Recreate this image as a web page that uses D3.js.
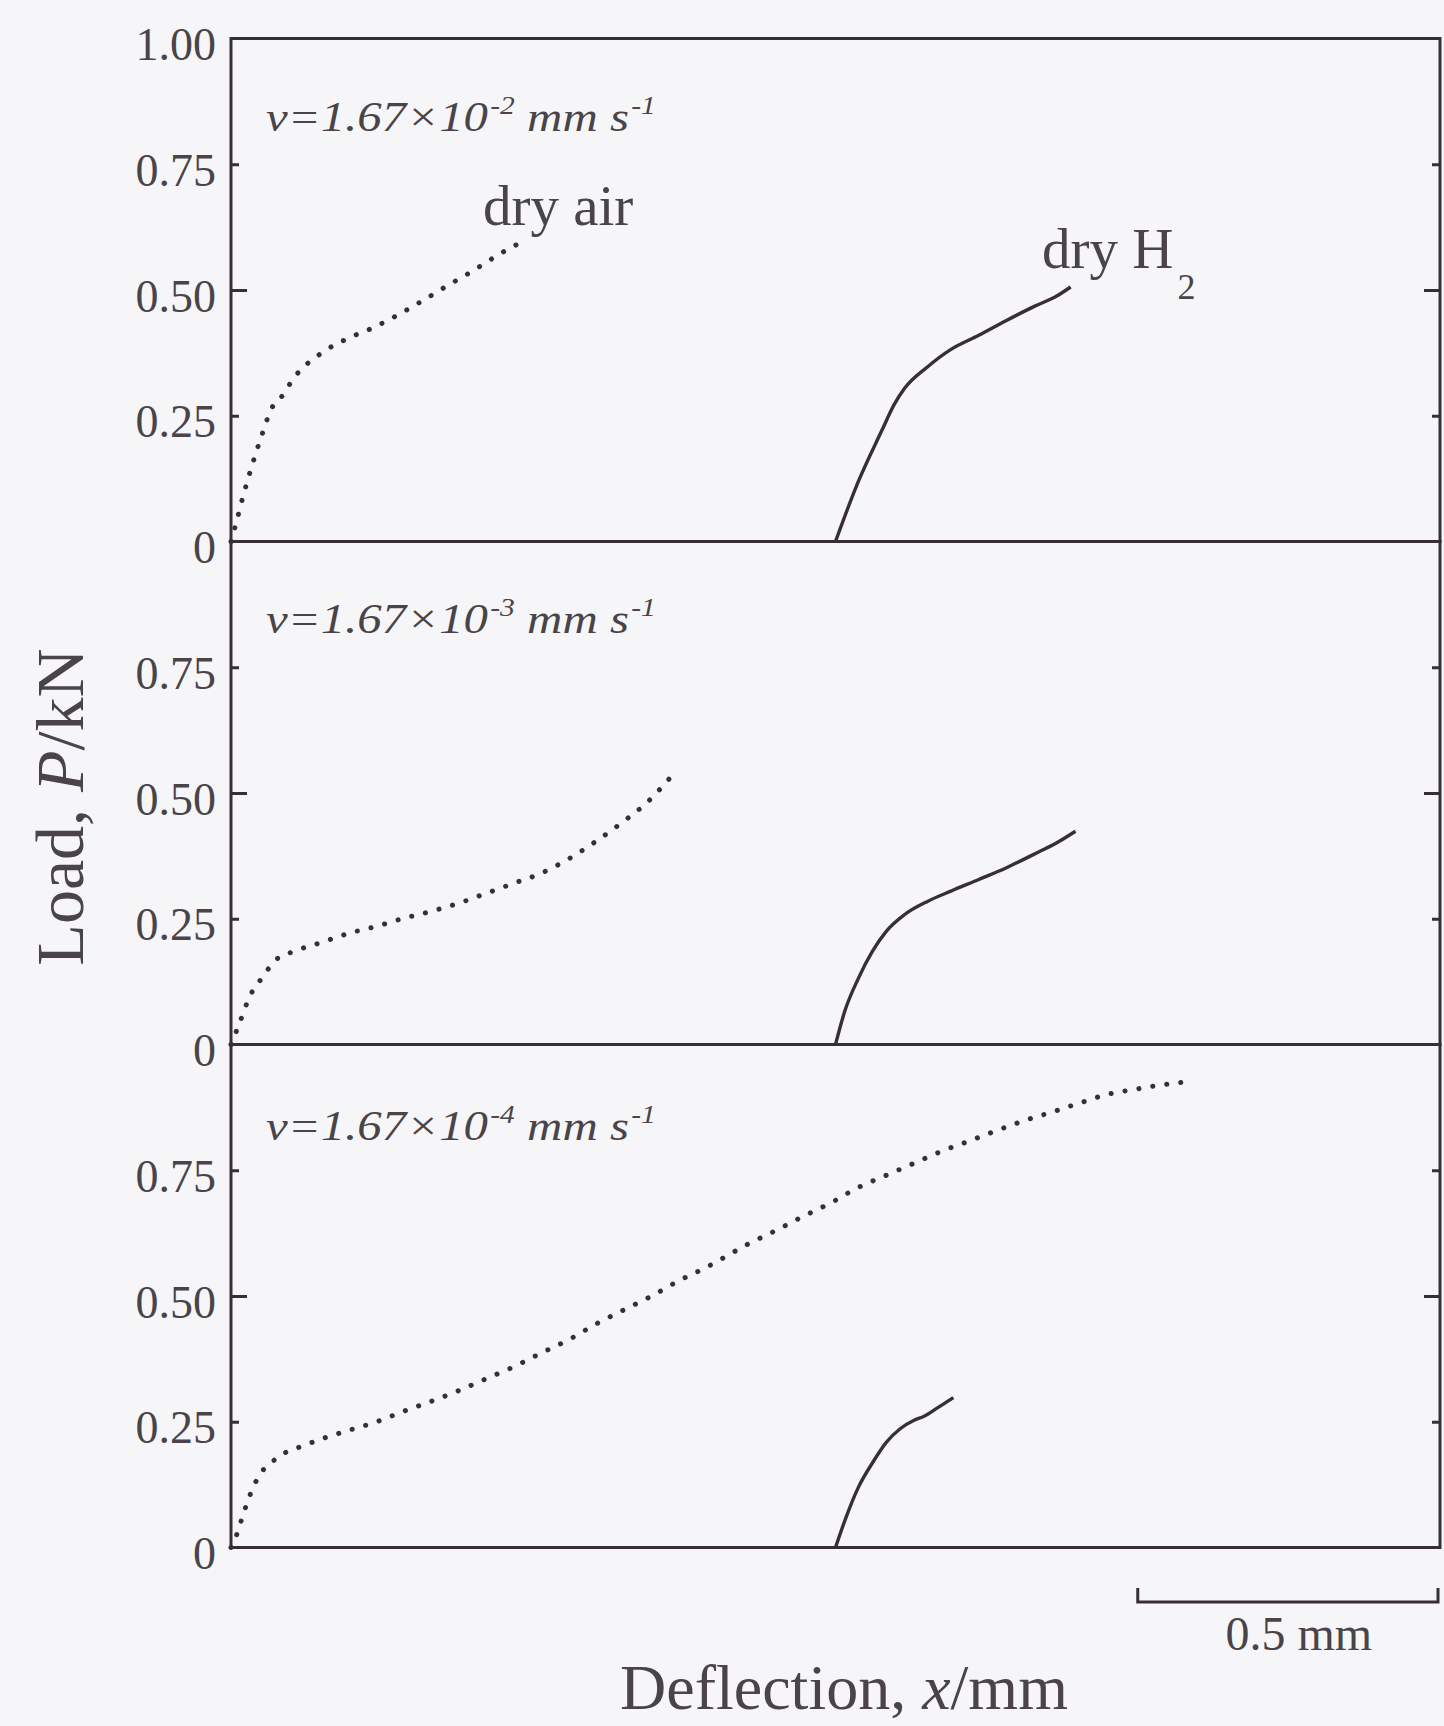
<!DOCTYPE html>
<html>
<head>
<meta charset="utf-8">
<script src="https://cdn.jsdelivr.net/npm/d3@7"></script>
<style>
  html, body { margin: 0; padding: 0; background: #f6f6f8; }
  svg { display: block; }
</style>
</head>
<body>
<svg id="chart" width="1444" height="1726"></svg>
<script>
// ---------------- DATA ----------------
const xDomain = [0, 2.0];                     // deflection, mm (H2 curves drawn offset by 1.0 mm)
const yDomain = [0, 1.0];                     // load, kN
const yTickValues = [0, 0.25, 0.5, 0.75, 1.0];
const yTickLabels = ["0", "0.25", "0.50", "0.75", "1.00"];
const rateExponents = ["-2", "-3", "-4"];     // v = 1.67×10^exp mm s^-1
const seriesNames = ["dry air", "dry H"];
const scaleBarValue = 0.5;                    // mm
const scaleBarLabel = "0.5 mm";
const xTitle = ["Deflection, ", "x", "/mm"];
const yTitle = ["Load, ", "P", "/kN"];

// panel 1 (v = 1.67e-2)
const dryAir1 = [[0,0],[0.007,0.03],[0.02,0.09],[0.036,0.156],[0.052,0.215],[0.066,0.262],[0.085,0.29],
  [0.104,0.325],[0.15,0.375],[0.192,0.403],[0.235,0.425],[0.28,0.453],[0.32,0.481],[0.36,0.51],
  [0.40,0.538],[0.445,0.572],[0.485,0.598]];
const dryH2_1 = [[1.0,0],[1.038,0.12],[1.076,0.219],[1.097,0.272],[1.114,0.304],[1.152,0.347],[1.191,0.382],
  [1.237,0.41],[1.282,0.439],[1.328,0.467],[1.366,0.488],[1.389,0.506]];
// panel 2 (v = 1.67e-3)
const dryAir2 = [[0,0],[0.013,0.039],[0.032,0.098],[0.051,0.132],[0.074,0.168],[0.104,0.185],[0.15,0.203],
  [0.195,0.221],[0.241,0.235],[0.286,0.251],[0.332,0.265],[0.377,0.281],[0.423,0.301],[0.469,0.321],
  [0.514,0.341],[0.56,0.37],[0.605,0.405],[0.651,0.445],[0.689,0.482],[0.727,0.531]];
const dryH2_2 = [[1.0,0],[1.015,0.065],[1.038,0.132],[1.061,0.185],[1.084,0.225],[1.114,0.258],[1.153,0.285],
  [1.191,0.305],[1.237,0.328],[1.282,0.351],[1.328,0.378],[1.366,0.401],[1.397,0.424]];
// panel 3 (v = 1.67e-4)
const dryAir3 = [[0,0],[0.009,0.024],[0.02,0.065],[0.032,0.106],[0.047,0.144],[0.066,0.168],[0.089,0.188],
  [0.119,0.202],[0.15,0.216],[0.195,0.233],[0.241,0.25],[0.286,0.271],[0.332,0.291],[0.377,0.312],
  [0.423,0.336],[0.469,0.36],[0.514,0.387],[0.56,0.414],[0.605,0.445],[0.651,0.473],[0.696,0.5],
  [0.742,0.531],[0.788,0.558],[0.809,0.572],[0.855,0.603],[0.901,0.63],[0.946,0.658],[0.992,0.685],
  [1.038,0.716],[1.084,0.74],[1.13,0.764],[1.176,0.788],[1.221,0.808],[1.267,0.829],[1.313,0.849],
  [1.359,0.866],[1.405,0.884],[1.45,0.901],[1.496,0.911],[1.542,0.92],[1.588,0.927]];
const dryH2_3 = [[1.0,0],[1.019,0.065],[1.038,0.12],[1.061,0.168],[1.084,0.209],[1.107,0.236],[1.13,0.253],
  [1.145,0.26],[1.168,0.277],[1.195,0.298]];

const panelSeries = [[dryAir1, dryH2_1], [dryAir2, dryH2_2], [dryAir3, dryH2_3]];

// ---------------- LAYOUT ----------------
const LINE = "#372f33", TEXT = "#4a4448", FONT = "'Liberation Serif', 'Times New Roman', serif";
const left = 231, right = 1440, top0 = 38.5, panelH = 503;
const annotOffset = [92, 91, 95];

const svg = d3.select("#chart");
svg.append("rect").attr("width", 1444).attr("height", 1726).attr("fill", "#f6f6f8");

const x = d3.scaleLinear().domain(xDomain).range([left, right]);

const line = d3.line().curve(d3.curveMonotoneX);

panelSeries.forEach((series, i) => {
  const top = top0 + i * panelH;
  const y = d3.scaleLinear().domain(yDomain).range([top + panelH, top]);
  const g = svg.append("g");
  line.x(d => x(d[0])).y(d => y(d[1]));

  // ticks (inward) left and right
  const minor = [yTickValues[1], yTickValues[3]], major = [yTickValues[2]];
  [[d3.axisLeft, left], [d3.axisRight, right]].forEach(([ax, xp]) => {
    [[minor, 8], [major, 16]].forEach(([vals, len]) => {
      const a = g.append("g").attr("transform", `translate(${xp},0)`)
        .call(ax(y).tickValues(vals).tickSize(-len).tickFormat(""));
      a.select(".domain").remove();
      a.selectAll("line").attr("stroke", LINE).attr("stroke-width", 3);
    });
  });

  // tick labels
  const labelVals = i === 0 ? yTickValues : yTickValues.slice(0, 4);
  const la = g.append("g").attr("transform", `translate(${left},0)`)
    .call(d3.axisLeft(y).tickValues(labelVals).tickSize(0).tickPadding(15)
      .tickFormat(v => yTickLabels[yTickValues.indexOf(v)]));
  la.select(".domain").remove();
  la.selectAll("text").attr("dy", "0.46em").attr("font-family", FONT)
    .attr("font-size", 46).attr("fill", TEXT);

  // frame
  g.append("rect").attr("x", left).attr("y", top).attr("width", right - left).attr("height", panelH)
    .attr("fill", "none").attr("stroke", LINE).attr("stroke-width", 3);

  // curves
  g.append("path").datum(series[0]).attr("d", line).attr("fill", "none")
    .attr("stroke", LINE).attr("stroke-width", 5).attr("stroke-linecap", "round")
    .attr("stroke-dasharray", "0.1 14");
  g.append("path").datum(series[1]).attr("d", line).attr("fill", "none")
    .attr("stroke", LINE).attr("stroke-width", 3.4).attr("stroke-linejoin", "round");

  // rate annotation
  const ag = g.append("g").attr("transform", `translate(266,${top + annotOffset[i]})`);
  const t = ag.append("text").attr("font-family", FONT).attr("font-style", "italic")
    .attr("font-size", 43).attr("fill", TEXT);
  t.append("tspan").text("v=1.67×10");
  t.append("tspan").attr("font-size", 26).attr("dy", -17).attr("dx", 2).text(rateExponents[i]);
  t.append("tspan").attr("dy", 17).text(" mm s");
  t.append("tspan").attr("font-size", 26).attr("dy", -17).attr("dx", 2).text("-1");
  const w = t.node().getBBox().width;
  t.attr("transform", `scale(${390 / w},1)`);
});

// series labels
svg.append("text").attr("x", 483).attr("y", 225).attr("font-family", FONT).attr("font-size", 57)
  .attr("fill", TEXT).text(seriesNames[0]);
const h2 = svg.append("text").attr("x", 1042).attr("y", 268).attr("font-family", FONT)
  .attr("font-size", 57).attr("fill", TEXT);
h2.append("tspan").text(seriesNames[1]);
h2.append("tspan").attr("font-size", 36).attr("dy", 31).attr("dx", 4).text("2");

// scale bar
const sb0 = x(xDomain[1] - scaleBarValue), sb1 = x(xDomain[1]);
svg.append("path").attr("d", `M${sb0},1588V1602H${sb1 - 2}V1588`).attr("fill", "none")
  .attr("stroke", LINE).attr("stroke-width", 3);
svg.append("text").attr("x", (sb0 + sb1) / 2 + 10).attr("y", 1650).attr("text-anchor", "middle")
  .attr("font-family", FONT).attr("font-size", 48).attr("fill", TEXT).text(scaleBarLabel);

// axis titles
const xt = svg.append("text").attr("x", 844).attr("y", 1709).attr("text-anchor", "middle")
  .attr("font-family", FONT).attr("font-size", 64).attr("fill", TEXT);
xt.append("tspan").text(xTitle[0]);
xt.append("tspan").attr("font-style", "italic").text(xTitle[1]);
xt.append("tspan").text(xTitle[2]);

const yt = svg.append("text").attr("transform", "translate(83,807) rotate(-90)").attr("text-anchor", "middle")
  .attr("font-family", FONT).attr("font-size", 68).attr("fill", TEXT);
yt.append("tspan").text(yTitle[0]);
yt.append("tspan").attr("font-style", "italic").text(yTitle[1]);
yt.append("tspan").text(yTitle[2]);
</script>
</body>
</html>
